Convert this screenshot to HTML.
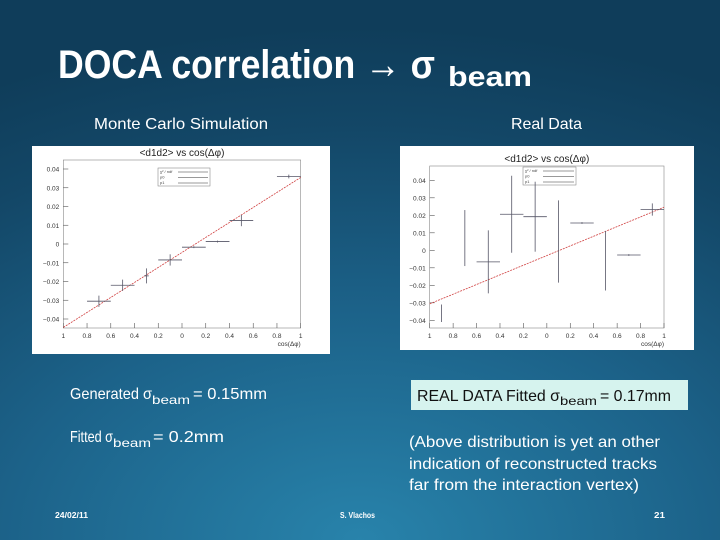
<!DOCTYPE html>
<html><head><meta charset="utf-8"><style>
html,body{margin:0;padding:0}
body{width:720px;height:540px;overflow:hidden;background:radial-gradient(ellipse 110% 95% at 50% 100%,#2883ab 0%,#1c6289 45%,#134767 80%,#0f3d5a 100%);font-family:"Liberation Sans",sans-serif}
svg{position:absolute;left:0;top:0}
</style></head><body>
<svg id="s" width="720" height="540">
<g fill="#fff" font-weight="bold">
<text x="58" y="78" font-size="40" textLength="377" lengthAdjust="spacingAndGlyphs">DOCA correlation → σ</text>
<text x="448" y="86" font-size="28" textLength="84" lengthAdjust="spacingAndGlyphs">beam</text>
</g>
<text x="94" y="129" font-size="16" fill="#fff" textLength="174" lengthAdjust="spacingAndGlyphs">Monte Carlo Simulation</text>
<text x="511" y="129" font-size="16" fill="#fff" textLength="71" lengthAdjust="spacingAndGlyphs">Real Data</text>
<rect x="32" y="146" width="298" height="208" fill="#fff"/>
<rect x="400" y="146" width="294" height="204" fill="#fff"/>
<g id="p1"></g>
<g id="p2"></g>
<g fill="#fff">
<text x="70" y="399" font-size="16" textLength="82" lengthAdjust="spacingAndGlyphs">Generated σ</text>
<text x="152" y="404" font-size="12" textLength="38" lengthAdjust="spacingAndGlyphs">beam</text>
<text x="193" y="399" font-size="16" textLength="74" lengthAdjust="spacingAndGlyphs">= 0.15mm</text>
</g>
<g fill="#fff">
<text x="70" y="442" font-size="16" textLength="43" lengthAdjust="spacingAndGlyphs">Fitted σ</text>
<text x="113" y="447" font-size="12" textLength="38" lengthAdjust="spacingAndGlyphs">beam</text>
<text x="153" y="442" font-size="16" textLength="71" lengthAdjust="spacingAndGlyphs">= 0.2mm</text>
</g>
<rect x="411" y="380" width="277" height="30" fill="#d6f3ee"/>
<g fill="#111">
<text x="417" y="401" font-size="16" textLength="143" lengthAdjust="spacingAndGlyphs">REAL DATA Fitted σ</text>
<text x="560" y="405" font-size="12" textLength="37" lengthAdjust="spacingAndGlyphs">beam</text>
<text x="600" y="401" font-size="16" textLength="71" lengthAdjust="spacingAndGlyphs">= 0.17mm</text>
</g>
<g fill="#fff" font-size="16">
<text x="409" y="447" textLength="251" lengthAdjust="spacingAndGlyphs">(Above distribution is yet an other</text>
<text x="409" y="469" textLength="248" lengthAdjust="spacingAndGlyphs">indication of reconstructed tracks</text>
<text x="409" y="490" textLength="230" lengthAdjust="spacingAndGlyphs">far from the interaction vertex)</text>
</g>
<text x="55" y="518" font-size="8" font-weight="bold" fill="#fff" textLength="33" lengthAdjust="spacingAndGlyphs">24/02/11</text>
<text x="340" y="518" font-size="8" font-weight="bold" fill="#fff" textLength="35" lengthAdjust="spacingAndGlyphs">S. Vlachos</text>
<text x="654" y="518" font-size="8" font-weight="bold" fill="#fff" textLength="11" lengthAdjust="spacingAndGlyphs">21</text>
</svg>
<script>
const xTicks=[-1,-0.8,-0.6,-0.4,-0.2,0,0.2,0.4,0.6,0.8,1];
const xTickLabels=["1","0.8","0.6","0.4","0.2","0","0.2","0.4","0.6","0.8","1"];
const yTicks=[-0.04,-0.03,-0.02,-0.01,0,0.01,0.02,0.03,0.04];
const yTickLabels=["0.04","0.03","0.02","0.01","0","0.01","0.02","0.03","0.04"];
const mcX=[-0.7,-0.5,-0.3,-0.1,0.1,0.3,0.5,0.9];
const mcY=[-0.0305,-0.022,-0.017,-0.0085,-0.0017,0.0013,0.0125,0.036];
const mcXerr=[0.1,0.1,0.02,0.1,0.1,0.1,0.1,0.1];
const mcYerr=[0.003,0.003,0.004,0.003,0.0005,0.0005,0.003,0.001];
const mcFit=[-0.0045,0.04];
const dX=[-0.9,-0.7,-0.5,-0.3,-0.1,0.1,0.3,0.5,0.7,0.9];
const dY=[-0.036,0.007,-0.0066,0.0206,0.0192,0.005,0.0156,-0.006,-0.0027,0.0233];
const dXerr=[0,0,0.1,0.1,0.1,0,0.1,0,0.1,0.1];
const dYerr=[0.005,0.016,0.018,0.022,0.02,0.0235,0.0005,0.017,0.0005,0.0035];
const dFit=[-0.003,0.0276];
const NS='http://www.w3.org/2000/svg';
function mk(p,t,a){const e=document.createElementNS(NS,t);for(const k in a)e.setAttribute(k,a[k]);p.appendChild(e);return e;}
function plot(id,F,X,Y,XE,YE,fit,legend){
  const g=document.getElementById(id);
  const sx=v=>F.x0+(v+1)/2*(F.x1-F.x0);
  const sy=v=>F.y0+(v-0)/0.01*F.dy;
  const fr=mk(g,'rect',{x:F.x0,y:F.top,width:F.x1-F.x0,height:F.bot-F.top,fill:'none',stroke:'#888','stroke-width':0.6});
  
  const t=mk(g,'text',{x:(F.x0+F.x1)/2,y:F.top-4,'font-size':10,'text-anchor':'middle',fill:'#222'});
  t.textContent='<d1d2> vs cos(Δφ)';
  
  xTicks.forEach((v,i)=>{const x=sx(v);mk(g,'line',{x1:x,x2:x,y1:F.bot,y2:F.bot-5,stroke:'#555','stroke-width':0.6});
    const l=mk(g,'text',{x:x,y:F.bot+10,'font-size':6.5,'text-anchor':'middle',fill:'#333'});l.textContent=xTickLabels[i];
    });
  yTicks.forEach((v,i)=>{const y=sy(v);if(y<F.top||y>F.bot)return;mk(g,'line',{x1:F.x0,x2:F.x0+5,y1:y,y2:y,stroke:'#555','stroke-width':0.6});
    const l=mk(g,'text',{x:F.x0-4,y:y+2.5,'font-size':6.5,'text-anchor':'end',fill:'#333'});l.textContent=(v<0?'−':'')+yTickLabels[i];
    });
  const xl=mk(g,'text',{x:F.x1,y:F.bot+18,'font-size':6.5,'text-anchor':'end',fill:'#333'});xl.textContent='cos(Δφ)';
  
  const lb=mk(g,'rect',{x:legend[0],y:legend[1],width:legend[2],height:legend[3],fill:'#fff',stroke:'#777','stroke-width':0.5});
  
  ['χ² / ndf','p0','p1'].forEach((s,i)=>{const tt=mk(g,'text',{x:legend[0]+2,y:legend[1]+5+i*5.5,'font-size':4,fill:'#444'});tt.textContent=s;
    
    mk(g,'line',{x1:legend[0]+20,x2:legend[0]+legend[2]-2,y1:legend[1]+4+i*5.5,y2:legend[1]+4+i*5.5,stroke:'#999','stroke-width':1});});
  const fl=mk(g,'line',{x1:sx(-1),y1:sy(fit[0]-fit[1]),x2:sx(1),y2:sy(fit[0]+fit[1]),stroke:'#d04040','stroke-width':0.8,'stroke-dasharray':'2,1'});
  
  X.forEach((v,i)=>{const e=mk(g,'g',{stroke:'#556','stroke-width':0.8});
    
    mk(e,'line',{x1:sx(v-XE[i]),x2:sx(v+XE[i]),y1:sy(Y[i]),y2:sy(Y[i])});
    mk(e,'line',{x1:sx(v),x2:sx(v),y1:sy(Y[i]-YE[i]),y2:sy(Y[i]+YE[i])});});
}
plot('p1',{x0:63.3,x1:300.7,y0:244,dy:-18.75,top:160,bot:328},mcX,mcY,mcXerr,mcYerr,mcFit,[158,168,52,18]);
plot('p2',{x0:429.7,x1:664,y0:250.3,dy:-17.5,top:166,bot:328},dX,dY,dXerr,dYerr,dFit,[523,167,53,18]);
</script>
</body></html>
